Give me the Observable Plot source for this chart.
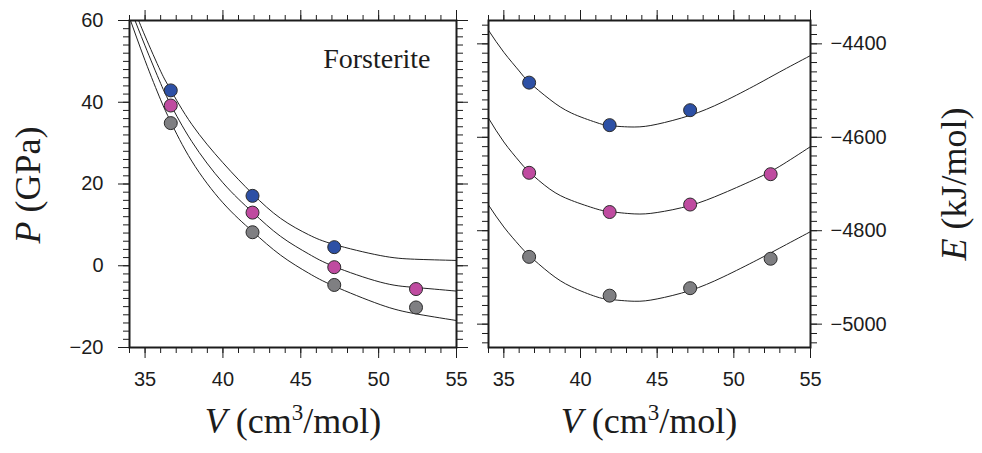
<!DOCTYPE html>
<html>
<head>
<meta charset="utf-8">
<script src="https://cdn.jsdelivr.net/npm/d3@7"></script>
<script src="https://cdn.jsdelivr.net/npm/@observablehq/plot@0.6"></script>
<style>
  html, body { margin: 0; padding: 0; background: #fff; }
  #chart { position: relative; width: 982px; height: 453px; overflow: hidden; background: #fff; }
  #chart svg { position: absolute; top: 0; overflow: visible; }
</style>
</head>
<body>
<div id="chart"></div>
<script>
// Calculated molar volumes (cm^3/mol)
const volumes = [36.65, 41.9, 47.15, 52.4];

// Pressure (GPa) at each volume, three series
const pressureBlue = [42.9, 17.1, 4.55];
const pressurePink = [39.2, 13.0, -0.35, -5.7];
const pressureGray = [34.9, 8.2, -4.7, -10.2];

// Energy (kJ/mol) at each volume, three series
const energyBlue = [-4483, -4574, -4542];
const energyPink = [-4676, -4760, -4744, -4679];
const energyGray = [-4856, -4939, -4923, -4860];

// Equation-of-state fit curves, P(V)
const fitVolPBlue = [34.4, 35.0, 36.0, 36.65, 38.0, 40.0, 41.9, 43.7, 45.5, 47.15, 50.1, 52.3, 55.0];
const fitPBlue    = [61.8, 56.2, 47.6, 43.0, 34.6, 25.2, 17.6, 11.6, 7.6, 5.2, 2.5, 1.6, 1.3];
const fitVolPPink = [34.15, 35.0, 36.0, 36.65, 38.0, 40.0, 41.9, 43.7, 45.5, 47.15, 50.1, 52.3, 55.0];
const fitPPink    = [62.0, 53.8, 44.6, 39.4, 30.4, 20.3, 13.1, 7.2, 2.9, -0.2, -4.0, -5.3, -6.2];
const fitVolPGray = [33.9, 35.0, 36.0, 36.65, 38.0, 40.0, 41.9, 43.7, 45.5, 47.15, 50.1, 52.3, 55.0];
const fitPGray    = [61.8, 50.2, 40.6, 35.2, 25.6, 15.4, 8.4, 2.6, -1.8, -5.0, -9.5, -11.7, -13.4];

// Equation-of-state fit curves, E(V)
const fitVolE   = [34.0, 35.0, 36.0, 36.65, 38.0, 39.4, 41.0, 41.9, 43.5, 45.0, 47.15, 49.3, 51.5, 53.0, 55.0];
const fitEBlue  = [-4371, -4418, -4458, -4482, -4519, -4548, -4568, -4575, -4578, -4572, -4553, -4524, -4487, -4460, -4425];
const fitEPink  = [-4559, -4610, -4651, -4674, -4711, -4735, -4753, -4759, -4764, -4761, -4746, -4720, -4688, -4662, -4620];
const fitEGray  = [-4745, -4792, -4831, -4853, -4891, -4920, -4941, -4947, -4951, -4946, -4928, -4899, -4863, -4837, -4802];

// Axis ticks
const volMajorTicks = [35, 40, 45, 50, 55];
const volMinorTicks = d3.range(34, 55.001, 1);
const pMajorTicks = [-20, 0, 20, 40, 60];
const pMinorTicks = d3.range(-20, 60.001, 2);
const eMajorTicks = [-5000, -4800, -4600, -4400];
const eMinorTicks = d3.range(-5040, -4359, 20);

const colors = {blue: "#2d50a5", pink: "#bf4ba0", gray: "#7f7f82"};

const rows = (xs, ys) => ys.map((y, i) => ({V: xs[i], y}));

const sansFont = "'Liberation Sans', Arial, Helvetica, sans-serif";
const serifFont = "'Liberation Serif', 'Times New Roman', Times, serif";
const ink = "#1c1c1c";

function tickAxes(yMinor, yMajor, yLabelSide, yPadding) {
  const blank = () => "";
  const common = {label: null, stroke: ink, fill: ink};
  return [
    Plot.axisX({...common, anchor: "bottom", ticks: volMinorTicks, tickSize: 6, tickFormat: blank}),
    Plot.axisX({...common, anchor: "bottom", ticks: volMajorTicks, tickSize: 11, tickPadding: 13, tickFormat: "d"}),
    Plot.axisX({...common, anchor: "top", ticks: volMinorTicks, tickSize: 6, tickFormat: blank}),
    Plot.axisX({...common, anchor: "top", ticks: volMajorTicks, tickSize: 11, tickFormat: blank}),
    Plot.axisY({...common, anchor: "left", ticks: yMinor, tickSize: 6, tickFormat: blank}),
    Plot.axisY({...common, anchor: "left", ticks: yMajor, tickSize: 11, tickPadding: yPadding,
                tickFormat: yLabelSide === "left" ? "d" : blank}),
    Plot.axisY({...common, anchor: "right", ticks: yMinor, tickSize: 6, tickFormat: blank}),
    Plot.axisY({...common, anchor: "right", ticks: yMajor, tickSize: 11, tickPadding: yPadding,
                tickFormat: yLabelSide === "right" ? "d" : blank})
  ];
}

function fitLine(xs, ys) {
  return Plot.line(rows(xs, ys), {x: "V", y: "y", curve: "natural", stroke: "#222", strokeWidth: 1, clip: true});
}

function dots(ys, color) {
  return Plot.dot(rows(volumes, ys), {x: "V", y: "y", r: 6.5, fill: color, stroke: "#2b2b2b", strokeWidth: 1});
}

const svgStyle = {fontFamily: sansFont, fontSize: "20px", color: ink, background: "transparent", overflow: "visible"};

// Left panel: pressure vs volume
const left = Plot.plot({
  width: 470, height: 453,
  marginLeft: 129, marginRight: 14, marginTop: 20, marginBottom: 106,
  style: svgStyle,
  x: {domain: [34, 55], axis: null},
  y: {domain: [-20, 60], axis: null},
  marks: [
    fitLine(fitVolPBlue, fitPBlue),
    fitLine(fitVolPPink, fitPPink),
    fitLine(fitVolPGray, fitPGray),
    dots(pressureBlue, colors.blue),
    dots(pressurePink, colors.pink),
    dots(pressureGray, colors.gray),
    Plot.text(["Forsterite"], {text: d => d, frameAnchor: "top-right", dx: -26, dy: 39,
                               textAnchor: "end", lineAnchor: "middle",
                               fontFamily: serifFont, fontSize: 28, fill: ink}),
    ...tickAxes(pMinorTicks, pMajorTicks, "left", 15),
    Plot.frame({stroke: ink, strokeWidth: 2})
  ]
});
left.style.left = "0px";

// Right panel: energy vs volume
const right = Plot.plot({
  width: 512, height: 453,
  marginLeft: 18, marginRight: 172, marginTop: 20, marginBottom: 106,
  style: svgStyle,
  x: {domain: [34, 55], axis: null},
  y: {domain: [-5050, -4350], axis: null},
  marks: [
    fitLine(fitVolE, fitEBlue),
    fitLine(fitVolE, fitEPink),
    fitLine(fitVolE, fitEGray),
    dots(energyBlue, colors.blue),
    dots(energyPink, colors.pink),
    dots(energyGray, colors.gray),
    ...tickAxes(eMinorTicks, eMajorTicks, "right", 9),
    Plot.frame({stroke: ink, strokeWidth: 2})
  ]
});
right.style.left = "470px";

const chart = document.getElementById("chart");
chart.appendChild(left);
chart.appendChild(right);

// Axis titles with italic symbols and superscripts
function volumeTitle(svg, cx) {
  const t = d3.select(svg).append("text")
    .attr("x", cx).attr("y", 433)
    .attr("text-anchor", "middle")
    .attr("font-family", serifFont).attr("font-size", 36).attr("fill", ink);
  t.append("tspan").attr("font-style", "italic").text("V");
  t.append("tspan").text(" (cm");
  t.append("tspan").attr("font-size", 23).attr("dy", -13).text("3");
  t.append("tspan").attr("dy", 13).text("/mol)");
}

function sideTitle(svg, x, y, symbol, rest) {
  const t = d3.select(svg).append("text")
    .attr("transform", `translate(${x},${y}) rotate(-90)`)
    .attr("text-anchor", "middle")
    .attr("font-family", serifFont).attr("font-size", 36).attr("fill", ink);
  t.append("tspan").attr("font-style", "italic").text(symbol);
  t.append("tspan").text(rest);
}

volumeTitle(left, 293);
volumeTitle(right, 179);
sideTitle(left, 40, 185, "P", " (GPa)");
sideTitle(right, 496, 184, "E", " (kJ/mol)");
</script>
</body>
</html>
